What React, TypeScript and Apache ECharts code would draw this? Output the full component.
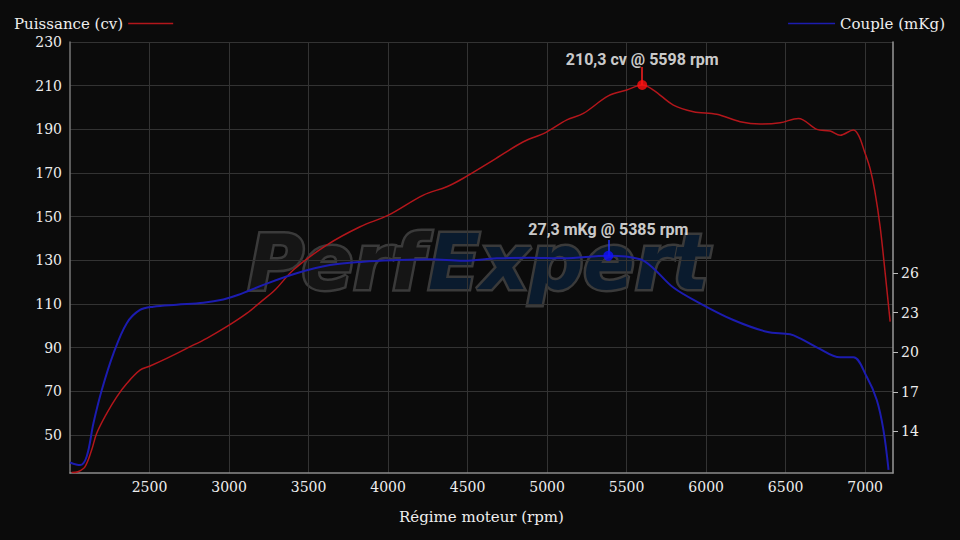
import React, { useEffect, useRef } from "react";
import * as echarts from "echarts";

const xTicks = [2500, 3000, 3500, 4000, 4500, 5000, 5500, 6000, 6500, 7000];
const powerTicks = [50, 70, 90, 110, 130, 150, 170, 190, 210, 230];
const torqueTicks = [14, 17, 20, 23, 26];

const powerRpm = [2010, 2050, 2094, 2136, 2168, 2231, 2294, 2357, 2440, 2500, 2608, 2734, 2860, 2985, 3111, 3200, 3290, 3404, 3614, 3824, 4002, 4222, 4369, 4473, 4662, 4851, 4990, 5124, 5228, 5385, 5501, 5598, 5669, 5794, 5920, 6067, 6214, 6339, 6465, 6580, 6696, 6780, 6843, 6926, 6960, 6995, 7031, 7060, 7094, 7126, 7157];
const powerValues = [32.8, 33.2, 35.4, 43.1, 50.8, 59.9, 67.5, 73.6, 79.7, 81.5, 85.1, 89.7, 94.3, 99.6, 105.7, 111.0, 116.5, 125.6, 137.0, 145.4, 150.7, 159.9, 163.7, 167.6, 175.9, 184.3, 188.5, 194.3, 197.3, 205.3, 208.0, 210.3, 208.0, 201.1, 198.1, 196.9, 193.5, 192.4, 193.0, 195.0, 190.0, 189.2, 187.3, 189.7, 187.0, 180.0, 172.0, 162.0, 145.4, 124.0, 101.9];

const torqueRpm = [2000, 2063, 2105, 2147, 2199, 2273, 2357, 2440, 2524, 2671, 2838, 2964, 3060, 3216, 3425, 3635, 3845, 4055, 4264, 4473, 4683, 4893, 5102, 5385, 5585, 5669, 5794, 5962, 6171, 6381, 6528, 6591, 6696, 6843, 6926, 7010, 7073, 7115, 7147];
const torqueValues = [11.65, 11.45, 12.1, 14.6, 17.1, 19.9, 22.2, 23.2, 23.45, 23.6, 23.75, 24.0, 24.35, 25.1, 25.98, 26.6, 26.86, 26.98, 27.04, 26.93, 27.11, 27.16, 27.11, 27.3, 27.04, 26.35, 24.9, 23.7, 22.44, 21.55, 21.36, 21.05, 20.37, 19.61, 19.61, 18.14, 16.38, 14.1, 11.08];

const powerPeak = [5598, 210.3];
const torquePeak = [5385, 27.3];

const SERIF = '"DejaVu Serif", serif';

export default function App() {
  const ref = useRef<HTMLDivElement>(null);
  useEffect(() => {
    if (!ref.current) return;
    const chart = echarts.init(ref.current, null, { renderer: "svg" });
    const powerData = powerRpm.map((r, i) => [r, powerValues[i]]);
    const torqueData = torqueRpm.map((r, i) => [r, torqueValues[i]]);
    const fmt = (v: number) => String(v).replace(".", ",");
    const plain = (v: number) => String(v);
    const labelStyle = {
      show: true,
      position: "top",
      distance: 13,
      color: "#ffffff",
      fontFamily: "Roboto",
      fontWeight: "bold",
      fontSize: 16,
    };
    const legendText = { color: "#eeeeee", fontSize: 15, fontFamily: SERIF };
    chart.setOption({
      animation: false,
      backgroundColor: "#0b0b0b",
      textStyle: { fontFamily: SERIF },
      legend: [
        {
          data: [{ name: "Puissance (cv)", icon: "rect" }],
          left: 14,
          top: 16,
          padding: 0,
          align: "right",
          itemWidth: 45,
          itemHeight: 1.5,
          selectedMode: false,
          textStyle: legendText,
        },
        {
          data: [{ name: "Couple (mKg)", icon: "rect" }],
          right: 15,
          top: 16,
          padding: 0,
          align: "left",
          itemWidth: 47,
          itemHeight: 1.5,
          selectedMode: false,
          textStyle: legendText,
        },
      ],
      grid: { left: 70, right: 67, top: 42, bottom: 67, containLabel: false },
      graphic: [
        {
          type: "group",
          z: 1,
          silent: true,
          children: [
            {
              type: "text",
              x: 248,
              y: 262,
              style: {
                text: "Perf",
                fontFamily: '"DejaVu Sans"',
                fontWeight: "bold",
                fontStyle: "italic",
                fontSize: 76,
                fill: "#151515",
                stroke: "#3a3a3a",
                lineWidth: 5,
                align: "left",
                verticalAlign: "middle",
              },
            },
            {
              type: "text",
              x: 428,
              y: 262,
              style: {
                text: "Expert",
                fontFamily: '"DejaVu Sans"',
                fontWeight: "bold",
                fontStyle: "italic",
                fontSize: 76,
                fill: "#0a1b2e",
                stroke: "#3a3a3a",
                lineWidth: 5,
                align: "left",
                verticalAlign: "middle",
              },
            },
          ],
        },
      ],
      xAxis: {
        type: "value",
        min: 2000,
        max: 7175,
        name: "Régime moteur (rpm)",
        nameLocation: "middle",
        nameGap: 36,
        nameTextStyle: { color: "#eeeeee", fontSize: 15, fontFamily: SERIF },
        axisLine: { show: true, lineStyle: { color: "#8c8c8c", width: 1.5 } },
        axisTick: { show: false, customValues: xTicks },
        axisLabel: { customValues: xTicks, formatter: plain, color: "#eeeeee", fontSize: 14, margin: 7, fontFamily: SERIF },
        splitLine: { show: true, lineStyle: { color: "#333333", width: 1 } },
      },
      yAxis: [
        {
          type: "value",
          position: "left",
          min: 32.6,
          max: 230,
          axisLine: { show: true, lineStyle: { color: "#777777", width: 1.5 } },
          axisTick: { show: false, customValues: powerTicks },
          axisLabel: { customValues: powerTicks, formatter: plain, color: "#eeeeee", fontSize: 14, margin: 8, fontFamily: SERIF },
          splitLine: { show: true, lineStyle: { color: "#333333", width: 1 } },
        },
        {
          type: "value",
          position: "right",
          min: 10.85,
          max: 43.5,
          axisLine: { show: true, lineStyle: { color: "#999999", width: 1.5 } },
          axisTick: { show: true, customValues: torqueTicks, length: 5, lineStyle: { color: "#bbbbbb" } },
          axisLabel: { customValues: torqueTicks, formatter: plain, color: "#eeeeee", fontSize: 14, margin: 8, fontFamily: SERIF },
          splitLine: { show: false },
        },
      ],
      series: [
        {
          name: "Puissance (cv)",
          type: "line",
          yAxisIndex: 0,
          data: powerData,
          symbol: "none",
          smooth: 0.35,
          lineStyle: { color: "#b3161b", width: 1.5 },
          itemStyle: { color: "#b3161b" },
          z: 3,
          silent: true,
        },
        {
          name: "Couple (mKg)",
          type: "line",
          yAxisIndex: 1,
          data: torqueData,
          symbol: "none",
          smooth: 0.35,
          lineStyle: { color: "#1c1cb0", width: 2 },
          itemStyle: { color: "#1c1cb0" },
          z: 3,
          silent: true,
        },
        {
          name: "powerPeak",
          type: "scatter",
          yAxisIndex: 0,
          data: [powerPeak],
          symbolSize: 10,
          itemStyle: { color: "#ff1010" },
          label: { ...labelStyle, formatter: `${fmt(powerPeak[1])} cv @ ${powerPeak[0]} rpm` },
          z: 5,
          silent: true,
          markLine: {
            silent: true,
            symbol: ["none", "none"],
            label: { show: false },
            lineStyle: { color: "#ff2020", width: 1.5, type: "solid" },
            data: [[{ coord: [powerPeak[0], powerPeak[1]] }, { coord: [powerPeak[0], powerPeak[1] + 8.2] }]],
          },
        },
        {
          name: "torquePeak",
          type: "scatter",
          yAxisIndex: 1,
          data: [torquePeak],
          symbolSize: 10,
          itemStyle: { color: "#1010ff" },
          label: { ...labelStyle, formatter: `${fmt(torquePeak[1])} mKg @ ${torquePeak[0]} rpm` },
          z: 5,
          silent: true,
          markLine: {
            silent: true,
            symbol: ["none", "none"],
            label: { show: false },
            lineStyle: { color: "#2030ff", width: 1.5, type: "solid" },
            data: [[{ coord: [torquePeak[0], torquePeak[1]] }, { coord: [torquePeak[0], torquePeak[1] + 1.2] }]],
          },
        },
      ],
    });
    return () => chart.dispose();
  }, []);
  return <div ref={ref} style={{ width: 960, height: 540, position: "fixed", left: 0, top: 0 }} />;
}
